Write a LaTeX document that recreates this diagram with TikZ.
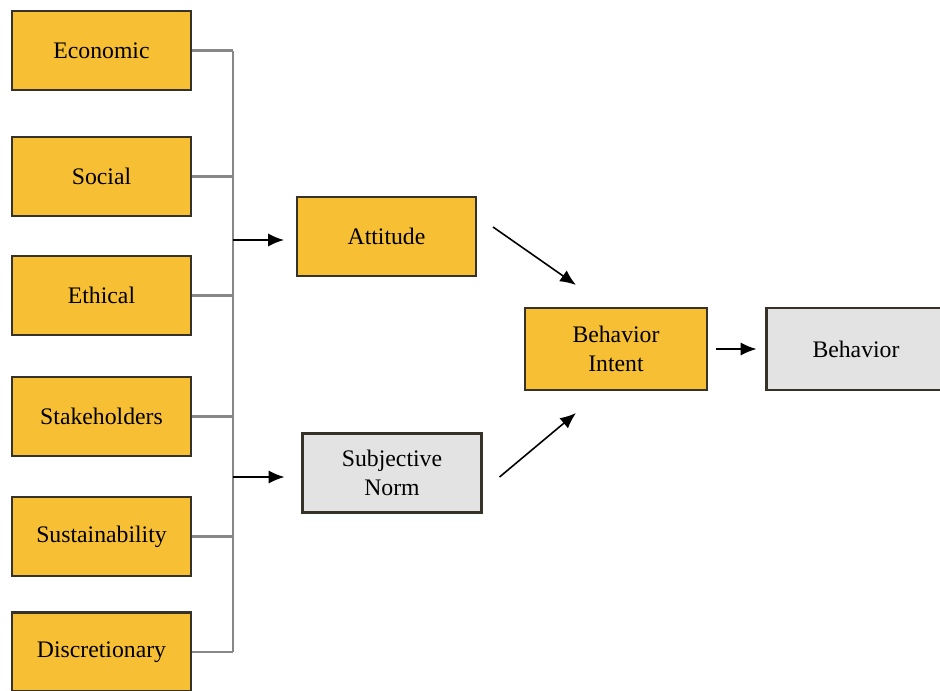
\documentclass[tikz,border=0pt]{standalone}
\usepackage{fontspec}
\setmainfont{Liberation Serif}
\usetikzlibrary{arrows.meta,calc}
\definecolor{boxorange}{RGB}{247,191,51}
\definecolor{boxgray}{RGB}{227,227,227}
\definecolor{boxedge}{RGB}{55,50,40}
\definecolor{wiregray}{RGB}{135,135,135}

\begin{document}
\begin{tikzpicture}[x=0.02cm,y=-0.02cm,
    factor/.style={draw=boxedge, line width=1.2pt, fill=boxorange,
      minimum width=3.58cm, minimum height=1.58cm, inner sep=0pt,
      align=center, font=\fontsize{13.5}{16.5}\selectfont},
    greybox/.style={factor, fill=boxgray},
    wire/.style={draw=wiregray, line width=1.2pt},
    arr/.style={line width=0.9pt, -{Latex[length=9pt,width=7.5pt]}}]
		%%%%% START %%%%%
		\useasboundingbox (0,0) rectangle (940,690);
		
		% CSR dimensions
		\node[factor] (eco) at (101.5, 50.5) {Economic};
		\node[factor] (soc) at (101.5, 176.5) {Social};
		\node[factor] (eth) at (101.5, 295.5) {Ethical};
		\node[factor] (stk) at (101.5, 416.5) {Stakeholders};
		\node[factor] (sus) at (101.5, 536.5) {Sustainability};
		\node[factor] (dis) at (101.5, 652) {Discretionary};
		
		% TPB part
		\node[factor] (att) at (386.5, 236.5) {Attitude};
		\node[greybox] (sn) at (392, 473) {Subjective\\Norm};
		\node[factor, minimum width=3.64cm, minimum height=1.64cm] (bi) at (616, 349) {Behavior\\Intent};
		\node[greybox, minimum height=1.64cm] (beh) at (856, 349) {Behavior};
		
		% bus
		\coordinate (bustop) at (233, 50.5);
		\coordinate (busbot) at (233, 652);
		\draw[wire] (bustop) -- (busbot);
		\foreach \n in {eco,soc,eth,stk,sus,dis}
			\draw[wire] (\n.east) -- (\n.east -| bustop);
		
		\coordinate (tapA) at (233, 240);
		\coordinate (tapB) at (233, 477);
		\draw[arr, shorten >=0.24cm] (tapA) -- (tapA -| att.west);
		\draw[arr, shorten >=0.34cm] (tapB) -- (tapB -| sn.west);
		
		\draw[arr] ($(att.east)+(16,-9.5)$) -- ($(bi.north west)+(52,-22)$);
		\draw[arr] ($(sn.east)+(17,4)$) -- ($(bi.south west)+(52,22)$);
		\draw[arr, shorten <=0.16cm, shorten >=0.18cm] (bi.east) -- (beh.west);
		%%%%% END %%%%%
	\end{tikzpicture}
\end{document}
